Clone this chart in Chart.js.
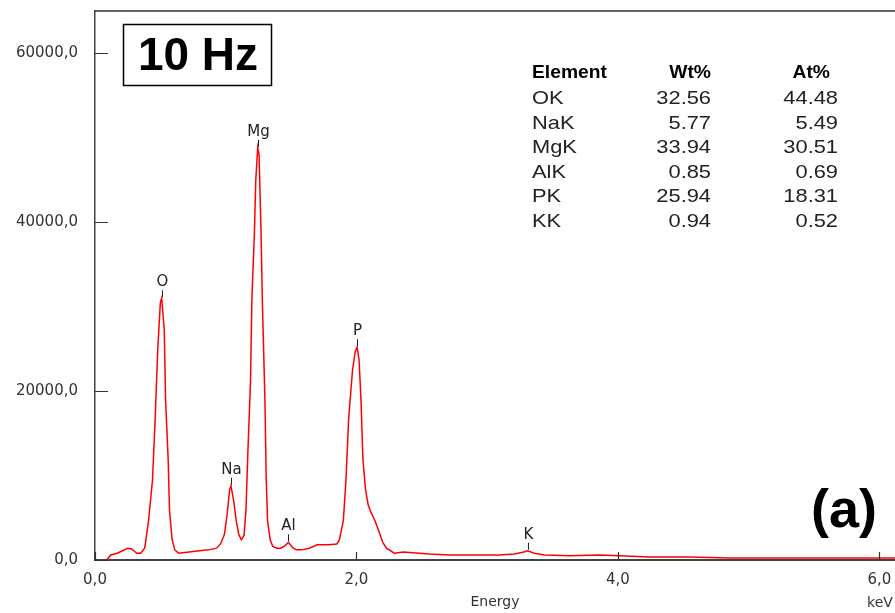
<!DOCTYPE html>
<html>
<head>
<meta charset="utf-8">
<script src="https://cdn.jsdelivr.net/npm/chart.js@4.4.1/dist/chart.umd.min.js"></script>
<style>
  html, body { margin: 0; padding: 0; background: #fff; overflow: hidden; }
  #wrap { width: 895px; height: 613px; position: relative; }
</style>
</head>
<body>
<div id="wrap"><canvas id="spectrum"></canvas></div>
<script>
// EDS spectrum, 10 Hz sample
const energy = [0.09,0.12,0.17,0.21,0.25,0.28,0.32,0.35,0.38,0.39,0.41,0.44,0.46,0.48,0.50,0.51,0.53,0.54,0.56,0.57,0.59,0.61,0.64,0.72,0.80,0.87,0.93,0.96,0.99,1.01,1.03,1.04,1.06,1.08,1.10,1.12,1.14,1.155,1.17,1.19,1.20,1.22,1.23,1.245,1.255,1.27,1.28,1.30,1.31,1.32,1.34,1.36,1.39,1.42,1.45,1.48,1.51,1.54,1.58,1.64,1.70,1.79,1.85,1.87,1.90,1.92,1.94,1.97,1.99,2.005,2.02,2.035,2.05,2.07,2.09,2.11,2.14,2.17,2.20,2.23,2.29,2.36,2.48,2.56,2.71,3.09,3.21,3.28,3.31,3.36,3.44,3.63,3.86,4.01,4.24,4.54,4.85,5.39,6.12];
const counts = [0,600,800,1100,1400,1300,800,800,1400,2400,4700,9500,16600,24900,30500,31000,27200,18900,11800,5900,2400,1200,800,950,1100,1200,1400,1900,3000,5300,8300,8800,7100,4700,3000,2400,2900,5900,13000,21300,30800,39000,45000,48800,48000,39000,30800,18900,9500,4700,2400,1600,1400,1400,1650,2100,1500,1200,1200,1400,1800,1800,1900,2400,4700,9500,16600,22500,24600,25200,23700,18900,11800,8300,6500,5700,4700,3500,2100,1400,800,950,800,700,600,600,700,950,1100,800,600,500,600,500,350,350,250,250,250];

const xTicks = [0, 2, 4, 6];
const yTicks = [0, 20000, 40000, 60000];

// peak markers
const peakNames = ['O', 'Na', 'Mg', 'Al', 'P', 'K'];
const peakEnergy = [0.51, 1.04, 1.25, 1.48, 2.005, 3.31];
const peakCounts = [31000, 8800, 48800, 2100, 25200, 1100];

// quantification table
const tableElements = ['OK', 'NaK', 'MgK', 'AlK', 'PK', 'KK'];
const wtPct = [32.56, 5.77, 33.94, 0.85, 25.94, 0.94];
const atPct = [44.48, 5.49, 30.51, 0.69, 18.31, 0.52];

const comma = v => v.toFixed(1).replace('.', ',');

function stretchText(ctx, text, x, y, align, sx) {
  ctx.save();
  ctx.translate(x, y);
  ctx.scale(sx, 1);
  ctx.textAlign = align;
  ctx.fillText(text, 0, 0);
  ctx.restore();
}

const decorations = {
  id: 'decorations',
  afterDraw(chart) {
    const ctx = chart.ctx;
    const { left, right, top, bottom } = chart.chartArea;
    const xs = chart.scales.x, ys = chart.scales.y;
    ctx.save();

    // top frame line
    ctx.strokeStyle = '#333';
    ctx.lineWidth = 1.5;
    ctx.beginPath();
    ctx.moveTo(left, top);
    ctx.lineTo(right + 5, top);
    ctx.stroke();

    // inner tick marks
    ctx.lineWidth = 1.2;
    ctx.beginPath();
    yTicks.forEach(v => {
      const py = Math.round(ys.getPixelForValue(v)) + 0.5;
      ctx.moveTo(left, py);
      ctx.lineTo(left + 13, py);
    });
    xTicks.forEach(v => {
      const px = Math.round(xs.getPixelForValue(v)) + 0.5;
      ctx.moveTo(px, bottom);
      ctx.lineTo(px, bottom - 8);
    });
    ctx.stroke();

    // peak labels
    ctx.font = '15px "DejaVu Sans"';
    ctx.fillStyle = '#222';
    ctx.strokeStyle = '#222';
    ctx.lineWidth = 1;
    ctx.textAlign = 'center';
    ctx.textBaseline = 'middle';
    peakNames.forEach((n, i) => {
      const px = Math.round(xs.getPixelForValue(peakEnergy[i])) + 0.5;
      const py = ys.getPixelForValue(peakCounts[i]);
      ctx.beginPath();
      ctx.moveTo(px, py - 1);
      ctx.lineTo(px, py - 8);
      ctx.stroke();
      ctx.fillText(n, px, py - 16);
    });

    // "10 Hz" box
    ctx.strokeStyle = '#000';
    ctx.lineWidth = 1.5;
    ctx.strokeRect(123.5, 24.5, 148, 61);
    ctx.fillStyle = '#000';
    ctx.font = 'bold 46px "Liberation Sans"';
    ctx.textAlign = 'center';
    ctx.textBaseline = 'middle';
    ctx.fillText('10 Hz', 198, 57);

    // "(a)"
    ctx.font = 'bold 54px "Liberation Sans"';
    ctx.fillText('(a)', 844, 512);

    // table
    const rowY = [73, 99, 124, 148, 173, 197, 222];
    const sx = 1.15;
    ctx.textBaseline = 'middle';
    ctx.font = 'bold 18px "Liberation Sans"';
    ctx.fillStyle = '#000';
    stretchText(ctx, 'Element', 532, rowY[0], 'left', 1.07);
    stretchText(ctx, 'Wt%', 711, rowY[0], 'right', 1.07);
    stretchText(ctx, 'At%', 830, rowY[0], 'right', 1.07);
    ctx.font = '19px "Liberation Sans"';
    ctx.fillStyle = '#222';
    tableElements.forEach((el, i) => {
      const y = rowY[i + 1];
      stretchText(ctx, el, 532, y, 'left', sx);
      stretchText(ctx, wtPct[i].toFixed(2), 711, y, 'right', sx);
      stretchText(ctx, atPct[i].toFixed(2), 838, y, 'right', sx);
    });

    // unit
    ctx.font = '14px "DejaVu Sans"';
    ctx.fillStyle = '#333';
    ctx.textAlign = 'center';
    ctx.fillText('keV', 880, 603);

    ctx.restore();
  }
};

const noPad = s => { s.paddingTop = 0; s.paddingBottom = 0; s.paddingLeft = 0; s.paddingRight = 0; };

const ctx = document.getElementById('spectrum').getContext('2d');
const chart = new Chart(ctx, {
  type: 'line',
  data: {
    datasets: [{
      data: energy.map((e, i) => ({ x: e, y: counts[i] })),
      borderColor: '#ff0000',
      borderWidth: 1.5,
      pointRadius: 0,
      tension: 0,
      fill: false
    }]
  },
  options: {
    responsive: true,
    maintainAspectRatio: false,
    devicePixelRatio: 1,
    animation: false,
    layout: { padding: { top: 11, right: 0, left: 0, bottom: 0 } },
    plugins: { legend: { display: false }, tooltip: { enabled: false } },
    scales: {
      x: {
        type: 'linear',
        min: 0,
        max: 6.12,
        afterBuildTicks: s => { s.ticks = xTicks.map(v => ({ value: v })); },
        afterFit: s => { s.height = 53; noPad(s); },
        grid: { display: false, drawTicks: false },
        border: { display: true, color: '#444', width: 2 },
        ticks: {
          padding: 11,
          color: '#333',
          font: { family: 'DejaVu Sans', size: 15 },
          maxRotation: 0,
          callback: v => comma(v)
        },
        title: {
          display: true,
          text: 'Energy',
          color: '#333',
          font: { family: 'DejaVu Sans', size: 14 },
          padding: { top: 0, bottom: 2 }
        }
      },
      y: {
        min: 0,
        max: 65000,
        afterBuildTicks: s => { s.ticks = yTicks.map(v => ({ value: v })); },
        afterFit: s => { s.width = 95; noPad(s); },
        grid: { display: false, drawTicks: false },
        border: { display: true, color: '#444', width: 1.5 },
        ticks: {
          padding: 17,
          color: '#333',
          font: { family: 'DejaVu Sans', size: 15 },
          callback: v => comma(v)
        }
      }
    }
  },
  plugins: [decorations]
});
</script>
</body>
</html>
